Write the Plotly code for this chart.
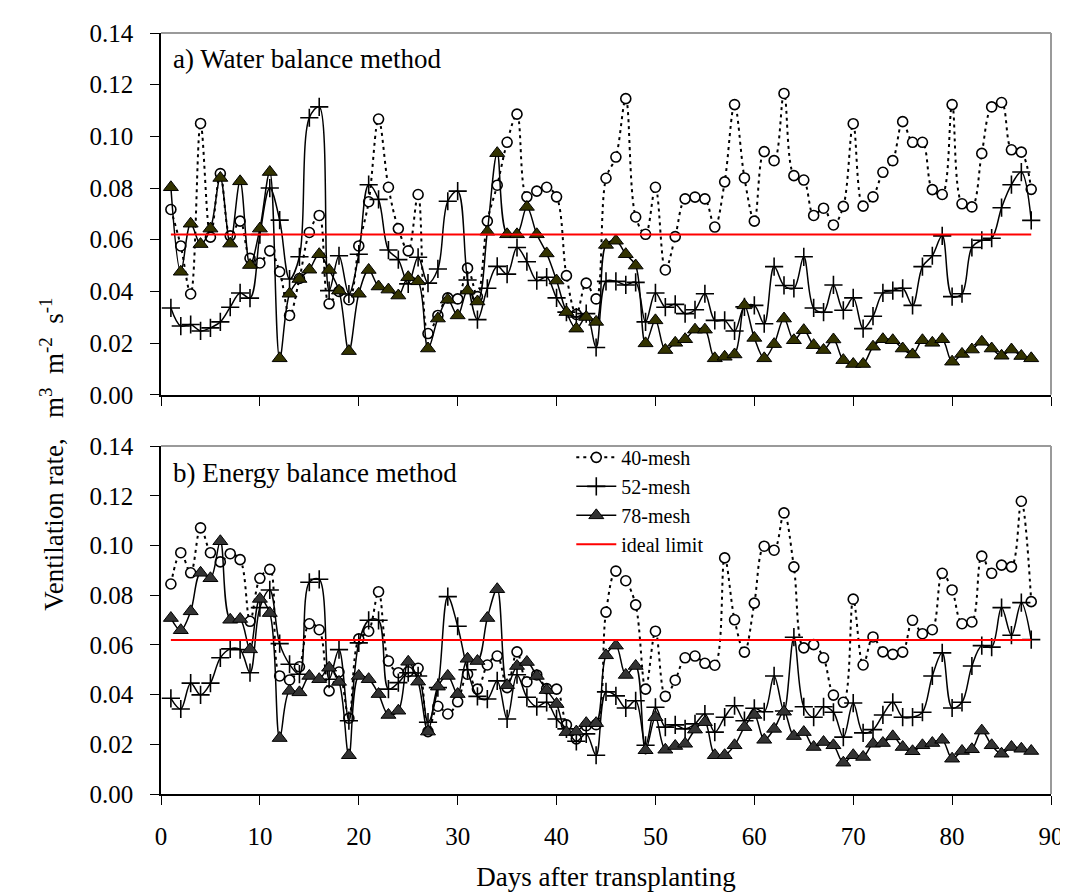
import plotly.graph_objects as go

days = list(range(1, 89))
IDEAL = 0.062

# a) Water balance method
a40 = [0.0717, 0.0576, 0.039, 0.105, 0.061, 0.0856, 0.0615, 0.0672, 0.0528, 0.051,
       0.0557, 0.0476, 0.0307, 0.045, 0.0628, 0.0694, 0.0352, 0.040, 0.0368, 0.0576,
       0.0747, 0.1067, 0.0803, 0.0643, 0.0557, 0.0775, 0.0237, 0.0307, 0.0375, 0.0371,
       0.049, 0.038, 0.0672, 0.0811, 0.0977, 0.1086, 0.0766, 0.0788, 0.0803, 0.0766,
       0.0461, 0.0311, 0.0432, 0.0371, 0.0838, 0.092, 0.1146, 0.0688, 0.0621, 0.0803,
       0.0483, 0.0612, 0.0758, 0.0765, 0.0758, 0.0649, 0.0824, 0.1123, 0.0839, 0.0672,
       0.0941, 0.0906, 0.1166, 0.0848, 0.0831, 0.0694, 0.0722, 0.0657, 0.0729, 0.1049,
       0.073, 0.0766, 0.0861, 0.0906, 0.1057, 0.0977, 0.0977, 0.0794, 0.0775, 0.1123,
       0.0739, 0.0727, 0.0934, 0.1114, 0.1131, 0.0948, 0.0939, 0.0795]
a52 = [0.0336, 0.0266, 0.0272, 0.0247, 0.0259, 0.0282, 0.0339, 0.0394, 0.0374, 0.062,
       0.080, 0.0676, 0.0448, 0.0534, 0.1072, 0.1114, 0.0403, 0.0538, 0.039, 0.0544,
       0.0813, 0.0756, 0.056, 0.0523, 0.0429, 0.0532, 0.0432, 0.0487, 0.0749, 0.0788,
       0.0444, 0.0291, 0.0412, 0.0497, 0.0467, 0.057, 0.0515, 0.0442, 0.0455, 0.0375,
       0.032, 0.0301, 0.0314, 0.0183, 0.0439, 0.0439, 0.0425, 0.0435, 0.0282, 0.0394,
       0.0339, 0.035, 0.0314, 0.0329, 0.0391, 0.0288, 0.0288, 0.0247, 0.034, 0.0346,
       0.0275, 0.0496, 0.0423, 0.0412, 0.0534, 0.0336, 0.032, 0.0425, 0.0327, 0.0375,
       0.0256, 0.0304, 0.0394, 0.0403, 0.0412, 0.0346, 0.0496, 0.0538, 0.0615, 0.038,
       0.0391, 0.057, 0.0598, 0.0606, 0.0724, 0.0813, 0.0862, 0.0675]
a78 = [0.0803, 0.0476, 0.0662, 0.0583, 0.0643, 0.0839, 0.0585, 0.0826, 0.0502, 0.0643,
       0.0862, 0.0141, 0.0391, 0.0448, 0.0484, 0.0544, 0.0483, 0.0403, 0.0169, 0.0391,
       0.0483, 0.0419, 0.0407, 0.0384, 0.0455, 0.0439, 0.0179, 0.0295, 0.0368, 0.0307,
       0.0403, 0.0361, 0.0631, 0.0935, 0.0621, 0.0621, 0.0727, 0.0621, 0.0547, 0.0442,
       0.032, 0.0256, 0.0301, 0.0282, 0.058, 0.0596, 0.0544, 0.05, 0.0199, 0.0288,
       0.0173, 0.0201, 0.0215, 0.0252, 0.0252, 0.0141, 0.0147, 0.0156, 0.0346, 0.022,
       0.0141, 0.0196, 0.0295, 0.0211, 0.025, 0.0192, 0.0173, 0.0214, 0.0134, 0.0119,
       0.0119, 0.0186, 0.0215, 0.0211, 0.0179, 0.0156, 0.0211, 0.0201, 0.0215, 0.0128,
       0.0158, 0.0175, 0.0205, 0.0179, 0.0151, 0.0175, 0.015, 0.0141]

# b) Energy balance method
b40 = [0.0845, 0.0971, 0.089, 0.1071, 0.0971, 0.0934, 0.0967, 0.0943, 0.0695, 0.0868,
       0.0904, 0.0475, 0.0459, 0.0512, 0.0685, 0.0661, 0.0415, 0.0491, 0.0305, 0.0624,
       0.0655, 0.0814, 0.0535, 0.0488, 0.0492, 0.0506, 0.0251, 0.0353, 0.0322, 0.0371,
       0.0482, 0.0422, 0.0519, 0.0555, 0.0428, 0.0572, 0.0451, 0.0479, 0.0424, 0.0422,
       0.0278, 0.0222, 0.0275, 0.0279, 0.0732, 0.0897, 0.0858, 0.0761, 0.0422, 0.0655,
       0.0393, 0.0458, 0.0548, 0.0555, 0.0526, 0.0518, 0.095, 0.0701, 0.0571, 0.0768,
       0.0997, 0.0981, 0.1131, 0.0914, 0.0588, 0.0601, 0.0548, 0.0398, 0.0369, 0.0784,
       0.0519, 0.0632, 0.0572, 0.0562, 0.0571, 0.0699, 0.0645, 0.0661, 0.0888, 0.0821,
       0.0685, 0.0692, 0.0957, 0.0888, 0.0921, 0.0914, 0.1178, 0.0774]
b52 = [0.0385, 0.0342, 0.0446, 0.0399, 0.0446, 0.0548, 0.0584, 0.0581, 0.0488, 0.075,
       0.0821, 0.0605, 0.0522, 0.0482, 0.0852, 0.0864, 0.0462, 0.0581, 0.0295, 0.0608,
       0.0699, 0.0699, 0.0422, 0.0448, 0.0488, 0.0475, 0.0289, 0.0428, 0.0794, 0.0675,
       0.050, 0.0393, 0.0382, 0.0455, 0.0302, 0.048, 0.0389, 0.0351, 0.0369, 0.0302,
       0.0262, 0.0212, 0.0242, 0.0156, 0.0411, 0.0395, 0.0346, 0.0375, 0.0196, 0.0349,
       0.0269, 0.0278, 0.0262, 0.0282, 0.0322, 0.0249, 0.0309, 0.0355, 0.0295, 0.0345,
       0.0331, 0.0475, 0.0334, 0.0631, 0.0351, 0.0309, 0.0351, 0.0329, 0.0229, 0.0366,
       0.0246, 0.0259, 0.0318, 0.0369, 0.0309, 0.0309, 0.0329, 0.0475, 0.0568, 0.0346,
       0.0369, 0.0515, 0.0597, 0.0591, 0.075, 0.0639, 0.077, 0.0621]
b78 = [0.0708, 0.0659, 0.0735, 0.089, 0.0868, 0.1017, 0.0701, 0.0704, 0.0582, 0.0785,
       0.0728, 0.0225, 0.0415, 0.0409, 0.0475, 0.0462, 0.0508, 0.0451, 0.0156, 0.0475,
       0.0462, 0.0402, 0.0318, 0.0335, 0.0532, 0.0452, 0.0251, 0.0432, 0.0475, 0.0402,
       0.0544, 0.0535, 0.0708, 0.0824, 0.0438, 0.0515, 0.0531, 0.0475, 0.0418, 0.0362,
       0.0249, 0.0251, 0.0285, 0.0285, 0.0558, 0.0597, 0.0479, 0.0515, 0.0176, 0.0309,
       0.0178, 0.0193, 0.0202, 0.0259, 0.0289, 0.0156, 0.0156, 0.0196, 0.0269, 0.0318,
       0.0218, 0.0262, 0.0331, 0.0233, 0.0249, 0.0189, 0.0209, 0.0196, 0.0126, 0.0156,
       0.0149, 0.0202, 0.0205, 0.0232, 0.0189, 0.0172, 0.0196, 0.0205, 0.0218, 0.0142,
       0.0173, 0.018, 0.0255, 0.0196, 0.0162, 0.0189, 0.0182, 0.0173]

series_names = ["40-mesh", "52-mesh", "78-mesh", "ideal limit"]
x_ticks = [0, 10, 20, 30, 40, 50, 60, 70, 80, 90]
y_ticks = [0.00, 0.02, 0.04, 0.06, 0.08, 0.10, 0.12, 0.14]

FONT = "Liberation Serif, Times New Roman, serif"
fig = go.Figure()


def add_panel(v40, v52, v78, xa, ya, tri_color, show):
    fig.add_trace(go.Scatter(
        x=days, y=v40, name=series_names[0], mode="lines+markers",
        line=dict(color="black", width=2, dash="3px,4px", shape="spline", smoothing=1),
        marker=dict(symbol="circle", size=10, color="white",
                    line=dict(color="black", width=1.6)),
        xaxis=xa, yaxis=ya, showlegend=show, legendrank=1))
    fig.add_trace(go.Scatter(
        x=days, y=v52, name=series_names[1], mode="lines+markers",
        line=dict(color="black", width=1.5, shape="spline", smoothing=1),
        marker=dict(symbol="cross-thin-open", size=13, color="black",
                    line=dict(color="black", width=1.6)),
        xaxis=xa, yaxis=ya, showlegend=show, legendrank=2))
    fig.add_trace(go.Scatter(
        x=days, y=v78, name=series_names[2], mode="lines+markers",
        line=dict(color="black", width=1.5, shape="spline", smoothing=1),
        marker=dict(symbol="triangle-up", size=13, color=tri_color,
                    line=dict(color="black", width=1)),
        xaxis=xa, yaxis=ya, showlegend=show, legendrank=3))
    fig.add_trace(go.Scatter(
        x=[days[0], days[-1]], y=[IDEAL, IDEAL], name=series_names[3], mode="lines",
        line=dict(color="red", width=2),
        xaxis=xa, yaxis=ya, showlegend=show, legendrank=4))


add_panel(a40, a52, a78, "x", "y", "#333300", False)
add_panel(b40, b52, b78, "x2", "y2", "#333333", True)

axis_common = dict(
    showgrid=False, zeroline=False, showline=True, linecolor="black", linewidth=1.5,
    ticks="outside", ticklen=9, tickwidth=1.2, tickcolor="black",
    tickfont=dict(family=FONT, size=25, color="black"),
)
yaxis_common = dict(axis_common, range=[0, 0.14], tickvals=y_ticks,
                    tickformat=".2f", ticklabelstandoff=12)
xaxis_common = dict(axis_common, range=[0, 90], tickvals=x_ticks)

fig.update_layout(
    width=1068, height=894,
    margin=dict(l=153, r=19, t=19, b=108),
    paper_bgcolor="white", plot_bgcolor="white",
    font=dict(family=FONT, color="black"),
    xaxis=dict(xaxis_common, anchor="y", showticklabels=False, matches="x2"),
    yaxis=dict(yaxis_common, domain=[0.5246, 1.0], anchor="x"),
    xaxis2=dict(xaxis_common, anchor="y2", ticklabelstandoff=10,
                title=dict(text="Days after transplanting", font=dict(size=27), standoff=18)),
    yaxis2=dict(yaxis_common, domain=[0.0, 0.4572], anchor="x2"),
    legend=dict(x=0.461, y=0.468, xanchor="left", yanchor="top",
                bgcolor="rgba(0,0,0,0)", font=dict(family=FONT, size=20),
                tracegroupgap=0, itemwidth=40),
    showlegend=True,
)

# frame borders (top/right in gray)
for xr, yr in [("x domain", "y domain"), ("x2 domain", "y2 domain")]:
    fig.add_shape(type="line", xref=xr, yref=yr, x0=0, x1=1, y0=1, y1=1,
                  line=dict(color="#9a9a9a", width=2))
    fig.add_shape(type="line", xref=xr, yref=yr, x0=1, x1=1, y0=0, y1=1,
                  line=dict(color="#9a9a9a", width=2))

fig.add_annotation(text="a) Water balance method", xref="paper", yref="paper",
                   x=0.011, y=0.9657, xanchor="left", yanchor="middle", showarrow=False,
                   font=dict(family=FONT, size=27))
fig.add_annotation(text="b) Energy balance method", xref="paper", yref="paper",
                   x=0.011, y=0.4224, xanchor="left", yanchor="middle", showarrow=False,
                   font=dict(family=FONT, size=27))
fig.add_annotation(text="Ventilation rate,   m<sup>3</sup>  m<sup>-2</sup>  s<sup>-1</sup>",
                   xref="paper", yref="paper", x=-0.1228, y=0.4468,
                   xanchor="center", yanchor="middle", textangle=-90, showarrow=False,
                   font=dict(family=FONT, size=27))

fig.write_html("out.html")
